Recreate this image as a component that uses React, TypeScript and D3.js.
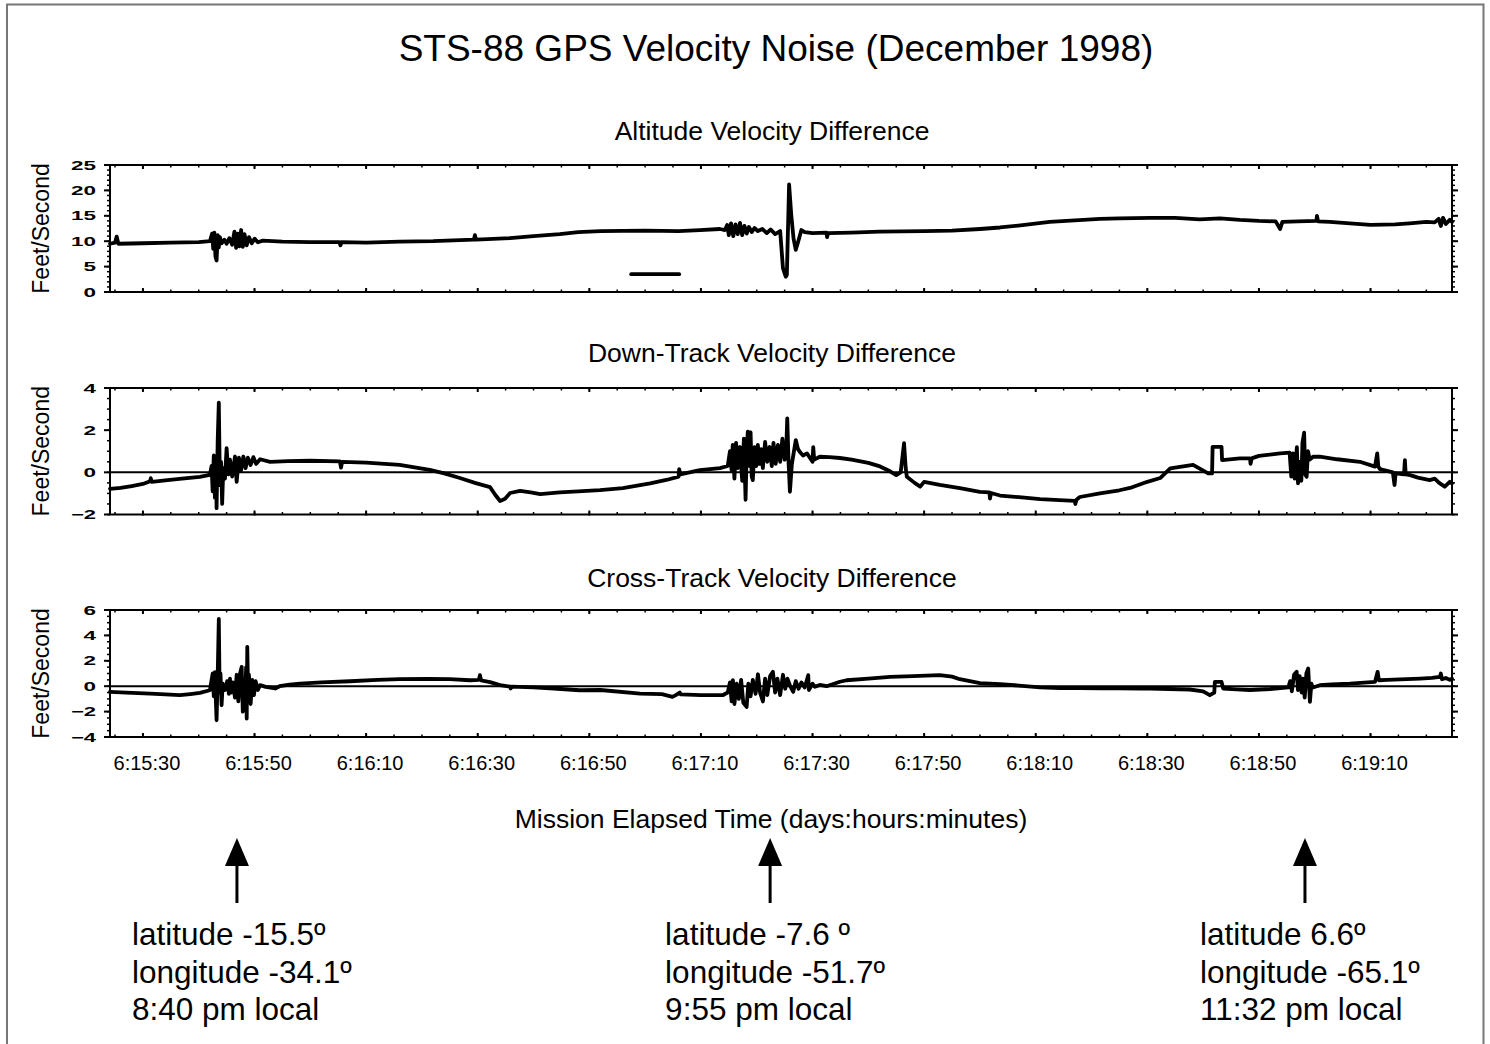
import React from 'react'
import * as d3 from 'd3'

type Pt = [number, number]

// time is minutes after day 6, 15:00 (so 30 => 6:15:30)
const timeDomain = [24.1, 264.6]
const timeTicks = [30, 50, 70, 90, 110, 130, 150, 170, 190, 210, 230, 250]
const timeTickLabels = ['6:15:30', '6:15:50', '6:16:10', '6:16:30', '6:16:50', '6:17:10',
  '6:17:30', '6:17:50', '6:18:10', '6:18:30', '6:18:50', '6:19:10']

const panelTitles = ['Altitude Velocity Difference', 'Down-Track Velocity Difference', 'Cross-Track Velocity Difference']
const panelDomains: [number, number][] = [[0, 25], [-2, 4], [-4, 6]]
const panelMajorTicks = [[0, 5, 10, 15, 20, 25], [-2, 0, 2, 4], [-4, -2, 0, 2, 4, 6]]
const panelMinorStep = [1, 0.5, 0.5]
const panelZeroLine = [false, true, true]

const altitude: Pt[] = [
  [24.1, 9.5], [25.0, 9.7], [25.3, 10.9], [25.6, 9.5], [30, 9.6], [35, 9.7], [40, 9.8], [42.0, 10.0],
  [42.4, 11.5], [42.6, 8.5], [42.8, 11.7], [43.0, 7.0], [43.2, 6.2], [43.4, 11.2], [43.6, 8.8], [43.8, 10.8],
  [44.1, 9.6], [44.6, 10.3], [45.0, 9.5], [45.5, 10.6], [46.0, 9.3], [46.4, 11.9], [46.7, 8.7], [47.0, 11.5],
  [47.3, 9.0], [47.6, 12.2], [47.9, 8.9], [48.2, 11.4], [48.6, 9.2], [49.0, 10.8], [49.5, 9.6], [50.0, 10.5],
  [50.6, 9.8], [51.5, 10.1], [55, 9.9], [60, 9.8], [65.2, 9.8], [65.4, 9.2], [65.6, 9.8], [70, 9.7], [76, 9.9],
  [82, 10.0], [89.3, 10.3], [89.5, 11.2], [89.7, 10.3], [95.8, 10.6], [100, 11.0], [104.7, 11.4], [108, 11.8],
  [112, 12.0], [120, 12.1], [126, 12.0], [129.8, 12.2], [133.4, 12.4],
  [134.3, 12.2], [134.7, 13.2], [135.0, 11.2], [135.4, 13.5], [135.8, 11.0], [136.2, 13.3], [136.6, 11.4],
  [137.0, 13.6], [137.4, 11.2], [137.8, 13.0], [138.2, 11.5], [138.6, 12.8], [139.1, 11.8], [139.6, 12.6],
  [140.2, 12.0], [141, 12.4], [141.8, 11.6], [142.5, 12.3], [143.3, 11.4], [144.2, 12.0], [144.7, 4.7],
  [145.2, 3.0], [145.4, 3.4], [145.8, 21.2], [146.2, 15.0], [146.6, 10.5], [147.0, 8.3], [147.4, 9.8],
  [148.0, 12.2], [148.6, 11.8], [150, 11.6], [152.5, 11.7], [152.6, 10.8], [152.8, 11.6], [157, 11.7],
  [162, 11.9], [170, 12.0], [175, 12.1], [180, 12.4], [183.6, 12.7], [188, 13.2], [192.5, 13.8], [197, 14.1],
  [201.5, 14.4], [205, 14.5], [210.5, 14.6], [215, 14.6], [219.4, 14.3], [223, 14.5], [226.6, 14.2],
  [230, 14.0], [233.0, 13.9], [233.8, 12.4], [234.2, 13.8], [237, 13.9], [240.3, 14.0], [240.4, 15.0],
  [240.6, 13.9], [242.7, 13.8], [246.3, 13.5], [250, 13.2], [254.4, 13.3], [257, 13.5], [260, 13.8],
  [261.5, 13.7], [262.2, 14.4], [262.6, 13.0], [263.0, 14.6], [263.5, 13.4], [264.2, 14.2], [264.6, 13.8]
]

// short horizontal bar drawn inside the altitude panel
const altitudeBar: Pt[] = [[117.5, 3.5], [126.1, 3.5]]

const downTrack: Pt[] = [
  [24.1, -0.78], [26, -0.74], [28, -0.65], [30, -0.55], [31.3, -0.42], [31.4, -0.28], [31.6, -0.45], [34, -0.38],
  [37, -0.30], [40.2, -0.22], [42.0, -0.12],
  [42.3, 0.3], [42.5, -0.9], [42.7, 0.8], [42.9, -1.2], [43.1, 0.6], [43.2, -1.7], [43.4, 1.5], [43.6, 3.3],
  [43.8, -0.6], [44.0, 0.5], [44.2, -1.5], [44.4, 0.2], [44.7, -0.3], [45.0, 1.15], [45.3, -0.1], [45.6, 0.6],
  [46.0, -0.2], [46.5, 0.75], [46.8, -0.45], [47.2, 0.7], [47.6, 0.1], [48.0, 0.75], [48.4, 0.2], [48.8, 0.7],
  [49.3, 0.35], [49.8, 0.72], [50.3, 0.4], [51, 0.62], [52.8, 0.5], [56, 0.53], [60, 0.55], [65.3, 0.52],
  [65.5, 0.22], [65.7, 0.5], [70, 0.46], [76, 0.35], [81.4, 0.12], [84, -0.05], [86.8, -0.27], [89.5, -0.5],
  [92.2, -0.7], [93.1, -1.05], [94.0, -1.36], [94.9, -1.25], [95.8, -0.98], [97.6, -0.88], [99.5, -0.95],
  [101.2, -1.03], [104.7, -0.95], [108, -0.9], [111.9, -0.84], [116, -0.75], [120.9, -0.52], [124, -0.35],
  [126.0, -0.2], [126.1, 0.15], [126.3, -0.1], [129.8, 0.1], [133.4, 0.2], [134.8, 0.3],
  [135.2, 1.0], [135.5, 0.1], [135.7, 1.3], [136.0, -0.3], [136.3, 1.4], [136.6, 0.2], [137.0, 1.2],
  [137.4, -0.4], [137.7, 1.6], [138.0, -1.3], [138.2, 1.0], [138.4, 1.93], [138.7, 0.3], [138.9, 1.9],
  [139.1, -0.2], [139.3, -0.37], [139.6, 1.2], [139.9, 0.3], [140.2, 1.3], [140.5, 0.4], [140.8, 1.1],
  [141.1, 0.2], [141.5, 1.44], [141.9, 0.5], [142.3, 1.2], [142.7, 0.3], [143.0, 1.4], [143.4, 0.4],
  [143.8, 1.3], [144.2, 0.5], [144.6, 1.6], [145.0, 0.6], [145.3, 1.2], [145.47, 2.56], [145.7, 0.5],
  [145.95, -0.92], [146.3, 0.4], [147.0, 1.53], [147.4, 1.1], [147.7, 0.98], [148.3, 0.8], [149, 0.9],
  [150.0, 0.5], [150.13, 1.2], [150.3, 0.6], [151.3, 0.74], [153, 0.72], [154.9, 0.68], [157, 0.6],
  [160, 0.45], [162.1, 0.28], [163.9, 0.05], [165.0, -0.13], [165.8, 0.0], [166.4, 1.38], [166.7, 0.2],
  [166.9, -0.21], [168.3, -0.5], [169.3, -0.68], [170, -0.45], [172.8, -0.6], [176.4, -0.75], [180, -0.93],
  [181.7, -0.95], [181.8, -1.25], [182, -0.98], [183.6, -1.1], [187, -1.18], [190.8, -1.27], [194.3, -1.32],
  [197.0, -1.35], [197.1, -1.5], [197.3, -1.3], [197.9, -1.17], [201.5, -1.0], [205, -0.85], [206.9, -0.74],
  [210, -0.45], [212.3, -0.27], [214.1, 0.19], [218.2, 0.35], [220.9, -0.05], [221.6, -0.05], [221.7, 1.21],
  [223.3, 1.21], [223.4, 0.58], [226.6, 0.66], [228.4, 0.66], [228.5, 0.4], [228.7, 0.66], [230, 0.78],
  [233.8, 0.9], [235.5, 0.93],
  [235.8, -0.2], [236.1, 0.9], [236.4, -0.3], [236.8, 1.2], [237.0, -0.52], [237.3, 0.5], [237.6, -0.4],
  [237.8, 1.4], [238.1, 1.88], [238.3, -0.1], [238.55, -0.21], [238.8, 1.0], [239.1, 0.6], [239.7, 0.74],
  [240.9, 0.74], [244, 0.62], [248.1, 0.5], [250.8, 0.27], [251.2, 0.9], [251.4, 0.27], [251.7, 0.15],
  [254.0, 0.0], [254.3, -0.6], [254.5, -0.05], [256.0, -0.1], [256.16, 0.58], [256.3, -0.1], [257.1, -0.13],
  [258.5, -0.25], [260.6, -0.37], [261.5, -0.3], [262.3, -0.5], [263.3, -0.68], [264.2, -0.45], [264.6, -0.52]
]

const crossTrack: Pt[] = [
  [24.1, -0.45], [27, -0.5], [31.3, -0.58], [34, -0.65], [36.6, -0.71], [38.5, -0.62], [40.2, -0.53], [42.0, -0.32],
  [42.5, 1.0], [42.7, -0.8], [42.9, 1.1], [43.1, -1.5], [43.2, -2.68], [43.4, 0.8], [43.6, 5.29], [43.75, -0.5],
  [43.9, 1.0], [44.1, -1.5], [44.3, 0.2], [44.7, -0.3], [45.1, 0.4], [45.4, -0.6], [45.6, 0.6], [45.8, -0.5],
  [46.1, 0.3], [46.5, -0.9], [46.8, 0.9], [47.1, -1.2], [47.4, 1.0], [47.7, 1.52], [47.9, -2.0], [48.1, 0.5],
  [48.3, -1.3], [48.5, 1.5], [48.6, -2.55], [48.7, 3.1], [48.85, -0.5], [49.0, 0.9], [49.3, -1.4], [49.6, 0.5],
  [49.9, -0.7], [50.2, 0.4], [50.6, -0.3], [51.0, 0.08], [52.0, -0.05], [53.7, -0.18], [54.5, 0.0], [56.3, 0.13],
  [58.1, 0.21], [62, 0.3], [67.1, 0.39], [72, 0.5], [76, 0.55], [81, 0.58], [85, 0.55], [88.6, 0.47],
  [90.2, 0.5], [90.4, 0.87], [90.6, 0.45], [92.2, 0.32], [94, 0.08], [95.8, -0.03], [95.9, -0.18], [96.1, -0.03],
  [100, -0.1], [102.9, -0.16], [108.3, -0.32], [112, -0.3], [119.1, -0.58], [123, -0.62], [124.9, -0.84],
  [125.5, -0.7], [126.2, -0.5], [126.4, -0.65], [130, -0.7], [133.9, -0.71], [134.8, -0.5],
  [135.2, 0.3], [135.5, -1.2], [135.73, 0.47], [136.0, -1.4], [136.4, 0.2], [136.8, -1.0], [137.2, 0.5],
  [137.6, -1.3], [138.19, -1.63], [138.5, 0.2], [138.9, -0.8], [139.3, 0.5], [139.8, -0.6], [140.22, 0.94],
  [140.6, -0.5], [141.11, -1.2], [141.5, 0.6], [141.9, -0.7], [142.4, 0.8], [142.9, 1.13], [143.3, -0.5],
  [143.7, 0.6], [144.2, -0.7], [144.7, 0.9], [145.1, -0.2], [145.5, 0.6], [146.0, 0.0], [146.54, -0.45],
  [147.0, 0.4], [147.5, -0.2], [148.0, 0.3], [148.6, -0.1], [149.23, 0.87], [149.35, -0.3], [150.0, 0.2],
  [150.43, -0.05], [151.3, 0.1], [152.53, 0.0], [154.9, 0.35], [156.11, 0.47], [160, 0.6], [163.9, 0.73],
  [168, 0.8], [172.8, 0.87], [175, 0.75], [176.4, 0.55], [180, 0.24], [183.6, 0.16], [187, 0.05],
  [190.8, -0.1], [194.3, -0.14], [197.9, -0.15], [201.5, -0.16], [205, -0.17], [208.7, -0.18], [210.5, -0.18],
  [214, -0.22], [217.6, -0.26], [220.0, -0.4], [221.2, -0.71], [222.0, -0.5], [222.1, 0.34], [223.3, 0.34],
  [223.6, -0.18], [226, -0.25], [228.4, -0.3], [232, -0.22], [235.25, -0.1],
  [235.6, 0.4], [235.9, -0.4], [236.3, 0.9], [236.76, 1.14], [237.0, -0.3], [237.3, 0.8], [237.65, -0.5],
  [237.9, 0.6], [238.2, -0.9], [238.5, 1.0], [238.83, 1.4], [239.14, -1.24], [239.4, 0.2], [239.68, -0.1],
  [240.93, 0.08], [243, 0.15], [246.3, 0.2], [250.8, 0.34], [251.27, 1.13], [251.5, 0.47], [253, 0.5],
  [255.3, 0.53], [258.9, 0.6], [261, 0.65], [262.44, 0.73], [262.6, 1.0], [262.8, 0.55], [263.5, 0.65],
  [264.2, 0.5], [264.6, 0.6]
]

const panelSeries: Pt[][][] = [[altitude, altitudeBar], [downTrack], [crossTrack]]

// arrows + place notes below the plot
const noteTimes = [46.85, 142.4, 238.25]
const noteLines = [
  ['latitude -15.5º', 'longitude -34.1º', '8:40 pm local'],
  ['latitude -7.6 º', 'longitude -51.7º', '9:55 pm local'],
  ['latitude 6.6º', 'longitude -65.1º', '11:32 pm local']
]

/**
 * LAYOUT
 */
const W = 1490
const H = 1044
const FONT = "'Liberation Sans', Arial, Helvetica, sans-serif"
const plotLeft = 110
const plotRight = 1452
const panelBox = [[165, 292], [388, 514.5], [610, 737]]
const panelTitleY = [140, 362, 587]

const x = d3.scaleLinear().domain(timeDomain).range([plotLeft, plotRight])
const minorTimes = d3.range(25, 265, 5)

const fmtTick = (v: number) => (v < 0 ? '\u2212' + Math.abs(v) : String(v))

const Panel = ({ i }: { i: number }) => {
  const [top, bottom] = panelBox[i]
  const y = d3.scaleLinear().domain(panelDomains[i]).range([bottom, top])
  const line = d3.line<Pt>().x(d => x(d[0])).y(d => y(d[1]))
  const [lo, hi] = panelDomains[i]
  const minor = d3.range(lo, hi + 1e-9, panelMinorStep[i])
  return (
    <g>
      <text x={772} y={panelTitleY[i]} textAnchor='middle' fontSize={26.5}>
        {panelTitles[i]}
      </text>
      <text transform={`translate(49, ${(top + bottom) / 2}) rotate(-90)`} textAnchor='middle' fontSize={23}>
        Feet/Second
      </text>
      {panelZeroLine[i] &&
        <line x1={plotLeft} x2={plotRight} y1={y(0)} y2={y(0)} stroke='#000' strokeWidth={2} />}
      {panelSeries[i].map((s, k) => (
        <path key={k} d={line(s) || ''} fill='none' stroke='#000' strokeWidth={3.8}
          strokeLinejoin='round' strokeLinecap='round' />
      ))}
      <rect x={plotLeft} y={top} width={plotRight - plotLeft} height={bottom - top}
        fill='none' stroke='#000' strokeWidth={2} />
      {minor.map(v => (
        <g key={`m${v}`}>
          <line x1={plotLeft - 3} x2={plotLeft} y1={y(v)} y2={y(v)} stroke='#000' strokeWidth={1.5} />
          <line x1={plotRight} x2={plotRight + 3} y1={y(v)} y2={y(v)} stroke='#000' strokeWidth={1.5} />
        </g>
      ))}
      {panelMajorTicks[i].map(v => (
        <g key={`t${v}`}>
          <line x1={plotLeft - 6} x2={plotLeft} y1={y(v)} y2={y(v)} stroke='#000' strokeWidth={2} />
          <line x1={plotRight} x2={plotRight + 6} y1={y(v)} y2={y(v)} stroke='#000' strokeWidth={2} />
          <text x={96} y={y(v)} dy='0.36em' textAnchor='end' fontWeight='bold' fontSize={12.5}
            textLength={fmtTick(v).length * 12.5} lengthAdjust='spacingAndGlyphs'>
            {fmtTick(v)}
          </text>
        </g>
      ))}
      {minorTimes.map(t => (
        <g key={`x${t}`}>
          <line x1={x(t)} x2={x(t)} y1={top} y2={top + 2.5} stroke='#000' strokeWidth={1.5} />
          <line x1={x(t)} x2={x(t)} y1={bottom} y2={bottom - 2.5} stroke='#000' strokeWidth={1.5} />
        </g>
      ))}
      {timeTicks.map(t => (
        <g key={`X${t}`}>
          <line x1={x(t)} x2={x(t)} y1={top - 1} y2={top + 4} stroke='#000' strokeWidth={2} />
          <line x1={x(t)} x2={x(t)} y1={bottom + 1} y2={bottom - 4} stroke='#000' strokeWidth={2} />
        </g>
      ))}
    </g>
  )
}

const App = () => {
  const lastBottom = panelBox[2][1]
  return (
    <svg width={W} height={H} viewBox={`0 0 ${W} ${H}`}
      style={{ position: 'absolute', left: 0, top: 0, background: '#fff' }}
      fontFamily={FONT} fill='#000'>
      <rect x={0} y={0} width={W} height={H} fill='#fff' />
      <path d={`M7,${H + 5} V4.5 H1483.5 V${H + 5}`} fill='none' stroke='#777' strokeWidth={2} />
      <text x={776} y={61} textAnchor='middle' fontSize={37}>STS-88 GPS Velocity Noise (December 1998)</text>

      {[0, 1, 2].map(i => <Panel key={i} i={i} />)}

      {timeTicks.map((t, k) => (
        <text key={t} x={x(t) + 4} y={lastBottom + 33} textAnchor='middle' fontSize={20}>
          {timeTickLabels[k]}
        </text>
      ))}
      <text x={771} y={828} textAnchor='middle' fontSize={26.5}>
        Mission Elapsed Time (days:hours:minutes)
      </text>

      {noteTimes.map((t, k) => (
        <g key={t}>
          <line x1={x(t)} x2={x(t)} y1={903} y2={860} stroke='#000' strokeWidth={3} />
          <path d={`M${x(t)},838 L${x(t) - 12},866 L${x(t) + 12},866 Z`} fill='#000' />
          {noteLines[k].map((s, j) => (
            <text key={j} x={x(t) - 105} y={945 + j * 37.5} fontSize={31.5}>{s}</text>
          ))}
        </g>
      ))}
    </svg>
  )
}

export default App
